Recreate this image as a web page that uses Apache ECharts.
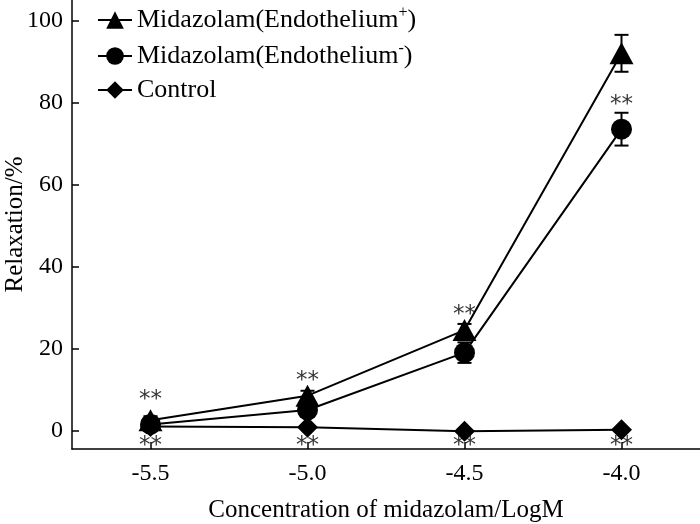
<!DOCTYPE html>
<html><head><meta charset="utf-8">
<script src="https://cdn.jsdelivr.net/npm/echarts@6/dist/echarts.min.js"></script>
<style>html,body{margin:0;padding:0;background:#fff}#c{width:700px;height:524px}</style>
</head><body><div id="c"></div>
<script>
var concentrations = [-5.5, -5.0, -4.5, -4.0];
var xTicks = [-5.5, -5.0, -4.5, -4.0];
var yTicks = [0, 20, 40, 60, 80, 100];
var endoPlus = [2.5, 8.5, 24.5, 92];
var endoPlusErr = [1, 1.2, 1.5, 4.5];
var endoMinus = [1.5, 5, 19, 73.5];
var endoMinusErr = [0.8, 1.2, 2.5, 4];
var control = [1, 0.8, -0.2, 0.2];
var controlErr = [0.4, 0.4, 0.4, 0.4];
var sigAbove = [[-5.5, 9], [-5.0, 13.6], [-4.5, 29.6], [-4.0, 80.8]];
var sigBelow = [[-5.5, -2.4], [-5.0, -2.4], [-4.5, -2.4], [-4.0, -2.4]];
var seriesNames = ['Midazolam(Endothelium+)', 'Midazolam(Endothelium-)', 'Control'];

var FONT = 'Liberation Serif';
function pairs(v) { return concentrations.map(function (x, i) { return [x, v[i]]; }); }
function errData(v, e) { return concentrations.map(function (x, i) { return [x, v[i] - e[i], v[i] + e[i]]; }); }
function errSeries(v, e) {
  return {
    type: 'custom', silent: true, z: 1,
    data: errData(v, e),
    renderItem: function (params, api) {
      var lo = api.coord([api.value(0), api.value(1)]);
      var hi = api.coord([api.value(0), api.value(2)]);
      var w = 7;
      var st = { stroke: '#000', lineWidth: 2 };
      return { type: 'group', children: [
        { type: 'line', shape: { x1: lo[0], y1: lo[1], x2: hi[0], y2: hi[1] }, style: st },
        { type: 'line', shape: { x1: lo[0] - w, y1: lo[1], x2: lo[0] + w, y2: lo[1] }, style: st },
        { type: 'line', shape: { x1: hi[0] - w, y1: hi[1], x2: hi[0] + w, y2: hi[1] }, style: st }
      ]};
    }
  };
}
function lineSeries(name, v, symbol, size) {
  return {
    name: name, type: 'line', data: pairs(v), symbol: symbol, symbolSize: size,
    lineStyle: { color: '#000', width: 2 }, itemStyle: { color: '#000' },
    z: 3, animation: false
  };
}
function sigSeries(d) {
  return {
    type: 'scatter', data: d, symbolSize: 0, silent: true, z: 4,
    label: { show: true, position: 'inside', formatter: '**', color: '#000',
      fontFamily: 'DejaVu Sans', fontSize: 23, offset: [0, 6] }
  };
}

var chart = echarts.init(document.getElementById('c'));
chart.setOption({
  animation: false,
  backgroundColor: '#fff',
  grid: { left: 72, right: 0, top: 0, bottom: 75, outerBoundsMode: 'none', containLabel: false },
  legend: {
    orient: 'vertical', left: 92, top: 0, itemGap: 8, itemWidth: 34, itemHeight: 22,
    data: seriesNames,
    textStyle: { fontFamily: FONT, fontSize: 26, color: '#000',
      rich: { sup: { fontFamily: FONT, fontSize: 16, color: '#000', verticalAlign: 'top', padding: [0, 0, 14, 0] },
              n: { fontFamily: FONT, fontSize: 26, color: '#000' } } },
    formatter: function (n) {
      var m = n.match(/^(.*Endothelium)([+-])\)$/);
      if (m) return '{n|' + m[1] + '}{sup|' + m[2] + '}{n|)}';
      return n;
    }
  },
  xAxis: {
    type: 'value', min: -5.75, max: -3.75,
    name: 'Concentration of midazolam/LogM', nameLocation: 'middle', nameGap: 49, nameMoveOverlap: false,
    nameTextStyle: { fontFamily: FONT, fontSize: 25, color: '#000' },
    axisLine: { onZero: false, lineStyle: { color: '#000', width: 1.5 } },
    axisTick: { inside: true, length: 7, customValues: xTicks, lineStyle: { color: '#000', width: 1.5 } },
    axisLabel: { customValues: xTicks, fontFamily: FONT, fontSize: 24, color: '#000', margin: 13,
      formatter: function (v) { return v.toFixed(1); } },
    splitLine: { show: false }
  },
  yAxis: {
    type: 'value', min: -4.5, max: 105,
    name: 'Relaxation/%', nameLocation: 'middle', nameGap: 44, nameMoveOverlap: false,
    nameTextStyle: { fontFamily: FONT, fontSize: 25, color: '#000' },
    axisLine: { show: true, onZero: false, lineStyle: { color: '#000', width: 1.5 } },
    axisTick: { show: true, inside: true, length: 7, customValues: yTicks, lineStyle: { color: '#000', width: 1.5 } },
    axisLabel: { customValues: yTicks, fontFamily: FONT, fontSize: 24, color: '#000', margin: 9 },
    splitLine: { show: false }
  },
  series: [
    errSeries(endoPlus, endoPlusErr),
    errSeries(endoMinus, endoMinusErr),
    errSeries(control, controlErr),
    lineSeries(seriesNames[0], endoPlus, 'triangle', [24, 22]),
    lineSeries(seriesNames[1], endoMinus, 'circle', 21),
    lineSeries(seriesNames[2], control, 'diamond', [21, 21]),
    sigSeries(sigAbove),
    sigSeries(sigBelow)
  ]
});
</script></body></html>
